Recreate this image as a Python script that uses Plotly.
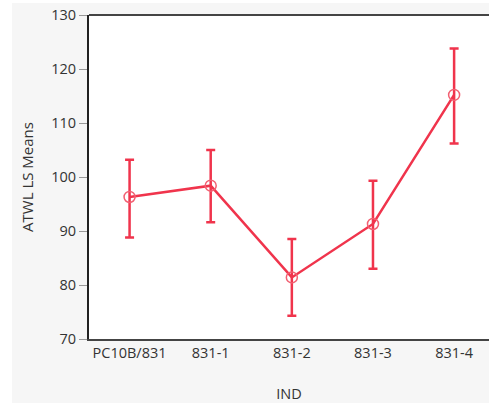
import plotly.graph_objects as go

categories = ["PC10B/831", "831-1", "831-2", "831-3", "831-4"]
means = [96.3, 98.4, 81.4, 91.3, 115.2]
upper = [103.2, 105.0, 88.5, 99.3, 123.8]
lower = [88.8, 91.6, 74.3, 83.0, 106.2]

err_plus = [u - m for u, m in zip(upper, means)]
err_minus = [m - l for m, l in zip(means, lower)]

RED = "#f0344c"
W, H = 489, 403
ML, MR, MT, MB = 89, 0, 15, 64
pw, ph = W - ML - MR, H - MT - MB

fig = go.Figure()
fig.add_trace(go.Scatter(
    x=categories, y=means, mode="lines+markers",
    line=dict(color=RED, width=2.5),
    marker=dict(symbol="circle-open", size=11, color="#f26072", line=dict(width=1.5)),
    error_y=dict(type="data", symmetric=False, array=err_plus, arrayminus=err_minus,
                 color=RED, thickness=2.5, width=4.5),
    showlegend=False,
))

font = "Open Sans, Segoe UI, sans-serif"
fig.update_layout(
    width=W, height=H,
    margin=dict(l=ML, r=MR, t=MT, b=MB, pad=0),
    paper_bgcolor="#f6f6f6", plot_bgcolor="white",
    font=dict(family=font, size=14, color="#333333"),
    xaxis=dict(
        type="category", range=[-0.5, 4.43],
        showgrid=False, zeroline=False,
        showline=True, linecolor="#444444", linewidth=2, mirror=False,
        ticks="", tickfont=dict(size=14.5, color="#333333"),
        title=dict(text="IND", font=dict(size=14.5, color="#333333"), standoff=28),
    ),
    yaxis=dict(
        range=[70, 130], dtick=10,
        showgrid=False, zeroline=False,
        showline=True, linecolor="#222222", linewidth=2,
        ticks="outside", ticklen=8, tickcolor="#999999", tickwidth=1,
        tickfont=dict(size=14.5, color="#333333"),
        title=dict(text="ATWL LS Means", font=dict(size=15, color="#333333"), standoff=14),
    ),
    shapes=[
        dict(type="rect", xref="paper", yref="paper", layer="below",
             x0=-ML / pw - 0.01, x1=(12 - ML) / pw, y0=-MB / ph - 0.01, y1=1 + MT / ph + 0.01,
             fillcolor="white", line=dict(width=0)),
        dict(type="rect", xref="paper", yref="paper", layer="below",
             x0=-ML / pw - 0.01, x1=1.05, y0=1 + (MT - 3) / ph, y1=1 + MT / ph + 0.01,
             fillcolor="white", line=dict(width=0)),
        dict(type="line", xref="paper", yref="paper", layer="above",
             x0=0, x1=1.05, y0=1, y1=1, line=dict(color="#444444", width=2)),
    ],
)

fig.write_html("out.html", config={"displayModeBar": False},
               post_script="document.body.style.margin='0';document.documentElement.style.overflow='hidden';document.body.style.overflow='hidden';")
